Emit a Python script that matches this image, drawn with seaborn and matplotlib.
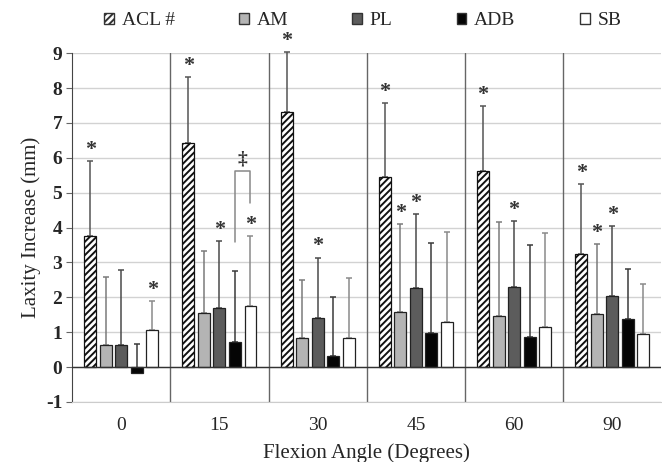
import numpy as np
import pandas as pd
import matplotlib
matplotlib.use('Agg')
import matplotlib.pyplot as plt
from matplotlib.patches import Patch
import seaborn as sns

angles = ['0', '15', '30', '45', '60', '90']
groups = ['ACL #', 'AM', 'PL', 'ADB', 'SB']

# mean laxity increase (mm), one list per group
acl = [3.75, 6.41, 7.30, 5.45, 5.63, 3.23]
am = [0.62, 1.56, 0.82, 1.58, 1.46, 1.51]
pl = [0.62, 1.68, 1.41, 2.26, 2.30, 2.03]
adb = [-0.16, 0.73, 0.32, 0.98, 0.87, 1.38]
sb = [1.07, 1.76, 0.84, 1.30, 1.15, 0.95]

# standard deviations (upper whisker only)
acl_sd = [2.16, 1.91, 1.73, 2.13, 1.86, 2.03]
am_sd = [1.97, 1.77, 1.69, 2.51, 2.70, 2.01]
pl_sd = [2.16, 1.93, 1.73, 2.12, 1.90, 2.02]
adb_sd = [0.81, 2.02, 1.69, 2.59, 2.63, 1.42]
sb_sd = [0.82, 1.99, 1.72, 2.58, 2.68, 1.43]

# significance stars, 1 = marked
acl_sig = [1, 1, 1, 1, 1, 1]
am_sig = [0, 0, 0, 1, 0, 1]
pl_sig = [0, 1, 1, 1, 1, 1]
adb_sig = [0, 0, 0, 0, 0, 0]
sb_sig = [1, 1, 0, 0, 0, 0]

# ADB vs SB bracket at 15 degrees
bracket_top = 5.63
bracket_left = 3.58
bracket_right = 4.70

means = [acl, am, pl, adb, sb]
sds = [acl_sd, am_sd, pl_sd, adb_sd, sb_sd]
sigs = [acl_sig, am_sig, pl_sig, adb_sig, sb_sig]

df = pd.DataFrame({
    'angle': np.tile(angles, len(groups)),
    'group': np.repeat(groups, len(angles)),
    'laxity': np.concatenate(means),
})

colors = ['white', '#b4b4b4', '#5c5c5c', '#050505', 'white']
err_colors = ['#555555', '#7a7a7a', '#4a4a4a', '#3a3a3a', '#8a8a8a']

sns.set_style('white')
plt.rcParams['font.family'] = ['Liberation Serif', 'DejaVu Serif']
plt.rcParams['hatch.linewidth'] = 1.4
plt.rcParams['axes.unicode_minus'] = False

fig = plt.figure(figsize=(6.62, 4.62), dpi=100)
ax = fig.add_axes([0.109, 0.13, 0.89, 0.755])

sns.barplot(data=df, x='angle', y='laxity', hue='group', order=angles,
            hue_order=groups, palette=colors, width=0.79, gap=0.23,
            errorbar=None, legend=False, edgecolor='#222222', linewidth=0.9,
            ax=ax, zorder=3)

bar_conts = list(ax.containers)
for h, cont in enumerate(bar_conts):
    xs = []
    for p in cont.patches:
        xs.append(p.get_x() + p.get_width() / 2)
        if h == 0:
            p.set_hatch('/////')
            p.set_edgecolor('#111111')
    ax.errorbar(xs, means[h], yerr=[np.zeros(len(xs)), sds[h]], fmt='none',
                ecolor=err_colors[h], elinewidth=1.1, capsize=2.2,
                capthick=1.1, zorder=2, clip_on=False)
    for x, m, s, g in zip(xs, means[h], sds[h], sigs[h]):
        if g:
            ax.text(x, m + s + 0.03, '*', ha='center', va='bottom',
                    fontsize=16, fontweight='bold', color='#333333', zorder=5)
    if h == 3:
        adb_x = xs[1]
    if h == 4:
        sb_x = xs[1]

ax.plot([adb_x, adb_x, sb_x, sb_x],
        [bracket_left, bracket_top, bracket_top, bracket_right],
        color='#888888', lw=1.1, zorder=2)
ax.text((adb_x + sb_x) / 2, bracket_top + 0.08, '‡', ha='center',
        va='bottom', fontsize=14, fontweight='bold', color='#333333')

ax.set_ylim(-1, 9)
ax.set_xlim(-0.5, len(angles) - 0.5)
ax.set_yticks(range(-1, 10))
ax.yaxis.grid(True, color='#d2d2d2', lw=1)
ax.set_axisbelow(True)
ax.axhline(0, color='#333333', lw=1, zorder=4)
for i in range(1, len(angles)):
    ax.axvline(i - 0.5, color='#666666', lw=1, zorder=1)

for side in ['top', 'right']:
    ax.spines[side].set_visible(False)
ax.spines['left'].set_color('#444444')
ax.spines['bottom'].set_color('#cccccc')
ax.tick_params(axis='y', left=True, length=4, color='#666666',
               labelsize=14, pad=3)
ax.tick_params(axis='x', bottom=False, labelsize=14, pad=7)
for t in ax.get_yticklabels():
    t.set_fontweight('bold')

ax.set_xlabel('Flexion Angle (Degrees)', fontsize=15, labelpad=7)
ax.set_ylabel('Laxity Increase (mm)', fontsize=15, labelpad=4)

handles = []
for h, g in enumerate(groups):
    handles.append(Patch(facecolor=colors[h], edgecolor='#333333',
                         hatch='/////' if h == 0 else None, label=g))
fig.legend(handles=handles, loc='center', bbox_to_anchor=(0.548, 0.955),
           ncol=5, frameon=False, fontsize=14, handlelength=0.5,
           handleheight=0.5, handletextpad=0.4, columnspacing=3.3)

fig.savefig('out.png', dpi=100)
